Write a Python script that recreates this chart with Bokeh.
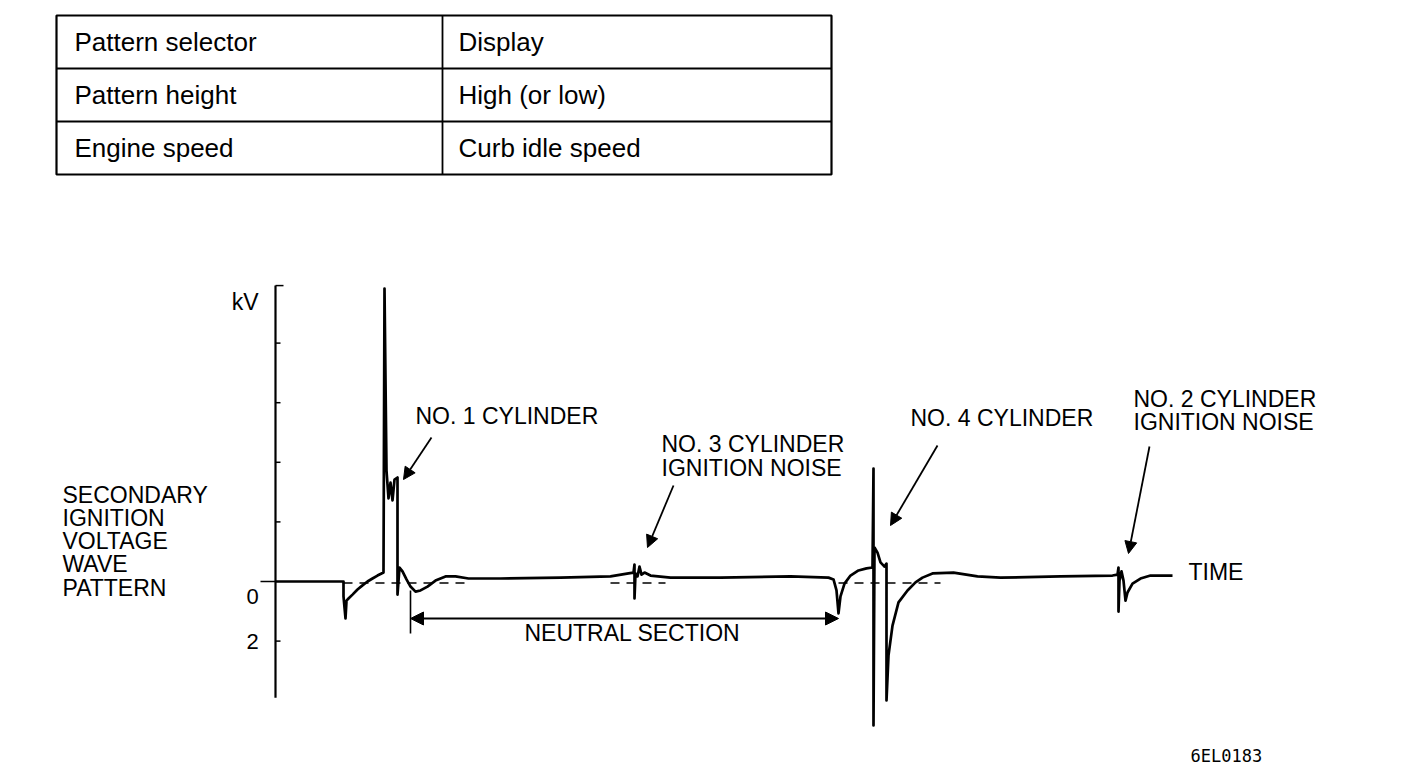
from bokeh.plotting import figure
from bokeh.models import Range1d, Arrow, NormalHead
from bokeh.core.properties import value
from bokeh.embed import file_html
from bokeh.resources import INLINE

# ---------------- data ----------------
# Secondary ignition waveform: time (arbitrary units) and voltage (kV, tick = 2 kV)
time = [0, 68, 68, 70, 71, 73, 77, 82, 87, 92, 97, 102, 108, 109, 111, 113, 115, 117, 119, 122,
        122, 124, 127, 131, 135, 140, 145, 152, 160, 170, 180, 193, 225, 285, 335, 353, 358, 359,
        359, 360, 362, 364, 366, 369, 375, 395, 445, 515, 553, 558, 561, 563, 565, 569, 575, 583,
        591, 597, 598, 598, 599, 602, 605, 609, 611, 611, 613, 617, 623, 632, 640, 647, 657, 678,
        702, 725, 785, 837, 842, 843, 843, 844, 846, 848, 850, 852, 857, 865, 875, 897]
kv = [0.00, 0.00, -0.50, -1.24, -0.64, -0.57, -0.44, -0.27, -0.13, 0.00, 0.10, 0.20, 0.30, 9.83,
      3.72, 2.79, 3.32, 2.72, 3.42, 3.49, -0.44, 0.47, 0.34, 0.07, -0.17, -0.34, -0.30, -0.17,
      0.03, 0.17, 0.17, 0.10, 0.10, 0.13, 0.17, 0.27, 0.30, 0.57, -0.57, 0.27, 0.17, 0.50, 0.23,
      0.30, 0.20, 0.13, 0.13, 0.17, 0.13, 0.07, -0.30, -1.07, -0.50, -0.07, 0.20, 0.37, 0.44,
      0.47, 3.79, -4.83, 1.14, 0.97, 0.64, 0.50, 0.60, -3.99, -2.48, -1.48, -0.70, -0.30, -0.03,
      0.13, 0.27, 0.30, 0.17, 0.13, 0.17, 0.20, 0.23, 0.47, -1.01, 0.03, 0.34, 0.03, -0.64,
      -0.37, -0.07, 0.10, 0.20, 0.20]

# dashed zero-reference segments (time ranges)
ref_start = [68, 335, 563]
ref_end = [195, 390, 665]

# kV axis
axis_min, axis_max = -3.9, 9.93
axis_ticks = [-2, 2, 4, 6, 8]
axis_label_values = [0, -2]
axis_labels = ["0", "2"]

# neutral section (time)
neutral_start, neutral_end = 135, 563

table_rows = [["Pattern selector", "Display"],
              ["Pattern height", "High (or low)"],
              ["Engine speed", "Curb idle speed"]]

left_title = ["SECONDARY", "IGNITION", "VOLTAGE", "WAVE", "PATTERN"]

# ---------------- layout helpers (pixel -> data) ----------------
W, H = 1392, 764
AXIS_X = 275      # pixel x of time 0
ZERO_Y = 581      # pixel y of 0 kV
PX_PER_KV = 29.8


def tx(px):
    return px - AXIS_X


def ky(py):
    return (ZERO_Y - py) / PX_PER_KV


FONT = value("Liberation Sans")
BLACK = "#000000"
LBL = value("23px")

p = figure(width=W, height=H,
           x_range=Range1d(tx(0), tx(W)),
           y_range=Range1d(ky(H), ky(0)),
           x_axis_type=None, y_axis_type=None,
           output_backend="svg", toolbar_location=None,
           min_border=0, background_fill_color="white", border_fill_color="white")
p.grid.visible = False
p.outline_line_color = None

# ---------------- table ----------------
tbl_left, tbl_right, tbl_top, tbl_bottom, tbl_mid = 56, 831, 15, 174, 442
row_h = (tbl_bottom - tbl_top) / len(table_rows)
p.quad(left=[tx(tbl_left)], right=[tx(tbl_right)], top=[ky(tbl_top)], bottom=[ky(tbl_bottom)],
       fill_color=None, line_color=BLACK, line_width=2.2)
p.segment(x0=[tx(tbl_left)] * 2, x1=[tx(tbl_right)] * 2,
          y0=[ky(tbl_top + row_h * i) for i in (1, 2)],
          y1=[ky(tbl_top + row_h * i) for i in (1, 2)], line_color=BLACK, line_width=1.8)
p.segment(x0=[tx(tbl_mid)], x1=[tx(tbl_mid)], y0=[ky(tbl_top)], y1=[ky(tbl_bottom)],
          line_color=BLACK, line_width=1.8)
tx_list, ty_list, tt_list = [], [], []
for i, row in enumerate(table_rows):
    cy = ky(tbl_top + row_h * (i + 0.5))
    tx_list += [tx(74), tx(458)]
    ty_list += [cy, cy]
    tt_list += row
p.text(x=tx_list, y=ty_list, text=tt_list, text_font=FONT, text_font_size=value("26px"),
       text_align="left", text_baseline="middle", text_color=BLACK)

# ---------------- axis ----------------
p.segment(x0=[0], x1=[0], y0=[axis_min], y1=[axis_max], line_color=BLACK, line_width=2.2)
p.segment(x0=[0] * len(axis_ticks), x1=[5] * len(axis_ticks), y0=axis_ticks, y1=axis_ticks,
          line_color=BLACK, line_width=1.5)
p.segment(x0=[0], x1=[8], y0=[axis_max], y1=[axis_max], line_color=BLACK, line_width=1.5)
p.segment(x0=[-15], x1=[0], y0=[0], y1=[0], line_color=BLACK, line_width=1.5)
p.text(x=[tx(258)], y=[ky(301)], text=["kV"], text_font=FONT, text_font_size=LBL,
       text_align="right", text_baseline="middle", text_color=BLACK)
p.text(x=[tx(252)] * len(axis_labels), y=axis_label_values, text=axis_labels, text_font=FONT,
       text_font_size=value("22px"), text_align="center", text_baseline="middle",
       text_color=BLACK, y_offset=[15, 0])

# ---------------- waveform ----------------
p.segment(x0=ref_start, x1=ref_end, y0=[-0.05] * 3, y1=[-0.05] * 3, line_color=BLACK,
          line_width=1.3, line_dash="9 7")
p.line(time, kv, line_color=BLACK, line_width=2.7, line_join="round")

# ---------------- neutral section ----------------
p.segment(x0=[neutral_start], x1=[neutral_start], y0=[ky(590)], y1=[ky(633)],
          line_color=BLACK, line_width=1.6)
p.add_layout(Arrow(x_start=neutral_start, y_start=ky(618), x_end=neutral_end, y_end=ky(618),
                   line_width=1.8, line_color=BLACK,
                   start=NormalHead(size=13, fill_color=BLACK, line_color=BLACK, line_width=1),
                   end=NormalHead(size=13, fill_color=BLACK, line_color=BLACK, line_width=1)))
p.text(x=[tx(632)], y=[ky(632)], text=["NEUTRAL SECTION"], text_font=FONT,
       text_font_size=LBL, text_align="center", text_baseline="middle",
       text_color=BLACK)

# ---------------- labels & arrows ----------------
lab_x = [tx(415), tx(661), tx(661), tx(910), tx(1133), tx(1133), tx(1188)]
lab_y = [ky(415), ky(443), ky(467), ky(417), ky(398), ky(421), ky(571)]
lab_t = ["NO. 1 CYLINDER", "NO. 3 CYLINDER", "IGNITION NOISE", "NO. 4 CYLINDER",
         "NO. 2 CYLINDER", "IGNITION NOISE", "TIME"]
p.text(x=lab_x, y=lab_y, text=lab_t, text_font=FONT, text_font_size=LBL,
       text_align="left", text_baseline="middle", text_color=BLACK)

arrows = [((431, 437), (403, 479)),
          ((673, 485), (647, 547)),
          ((937, 445), (890, 525)),
          ((1149, 446), (1128, 553))]
for (sx, sy), (ex, ey) in arrows:
    p.add_layout(Arrow(x_start=tx(sx), y_start=ky(sy), x_end=tx(ex), y_end=ky(ey),
                       line_width=1.8, line_color=BLACK,
                       end=NormalHead(size=12, fill_color=BLACK, line_color=BLACK, line_width=1)))

p.text(x=[tx(62)] * len(left_title), y=[ky(494 + 23.3 * i) for i in range(len(left_title))],
       text=left_title, text_font=FONT, text_font_size=LBL, text_align="left",
       text_baseline="middle", text_color=BLACK)

p.text(x=[tx(1190)], y=[ky(755)], text=["6EL0183"], text_font=value("DejaVu Sans Mono"),
       text_font_size=value("17px"), text_align="left", text_baseline="middle",
       text_color=BLACK)

open("out.html", "w").write(file_html(p, INLINE))
